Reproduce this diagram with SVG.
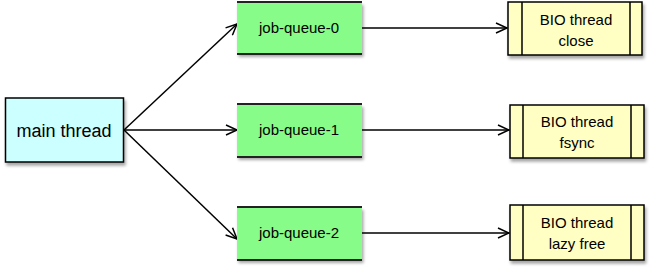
<svg xmlns="http://www.w3.org/2000/svg" width="650" height="268" viewBox="0 0 650 268">
<style>
text{font-family:"Liberation Sans",Arial,sans-serif;fill:#000;text-anchor:middle}
.main{fill:#ccffff;stroke:#000;stroke-width:1.5}
.q{fill:#88fc88;stroke:none}
.qb{stroke:#222;stroke-width:2.2}
.bio{fill:#ffffc4;stroke:#000;stroke-width:1.5}
.bl{stroke:#000;stroke-width:1.5}
.c{stroke:#000;stroke-width:1.5;fill:none;marker-end:url(#ah)}
.t15{font-size:15px}
</style>
<defs>
<filter id="sh" x="-10%" y="-10%" width="130%" height="140%">
<feDropShadow dx="1.5" dy="3" stdDeviation="1.5" flood-color="#000" flood-opacity="0.35"/>
</filter>
<marker id="ah" markerWidth="14" markerHeight="12" refX="12" refY="6" orient="auto" markerUnits="userSpaceOnUse">
<path d="M1,1 L12,6 L1,11" fill="none" stroke="#000" stroke-width="1.5"/>
</marker>
</defs>
<g id="connectors">
<line class="c" x1="124" y1="130" x2="237" y2="24"/>
<line class="c" x1="124" y1="130" x2="237" y2="130"/>
<line class="c" x1="124" y1="130" x2="237" y2="239"/>
<line class="c" x1="362" y1="28" x2="507" y2="28"/>
<line class="c" x1="362" y1="130" x2="509" y2="130"/>
<line class="c" x1="362" y1="233" x2="509" y2="233"/>
</g>
<g id="main-thread">
<rect class="main" x="5.5" y="98" width="118" height="64" filter="url(#sh)"/>
<text x="64" y="137" font-size="18">main thread</text>
</g>
<g id="job-queue-0">
<rect class="q" x="237" y="2" width="125" height="52" filter="url(#sh)"/>
<line class="qb" x1="237" y1="2" x2="362" y2="2"/>
<line class="qb" x1="237" y1="54" x2="362" y2="54"/>
<text class="t15" x="299" y="33">job-queue-0</text>
</g>
<g id="job-queue-1">
<rect class="q" x="237" y="104" width="125" height="53" filter="url(#sh)"/>
<line class="qb" x1="237" y1="104" x2="362" y2="104"/>
<line class="qb" x1="237" y1="157" x2="362" y2="157"/>
<text class="t15" x="299" y="135">job-queue-1</text>
</g>
<g id="job-queue-2">
<rect class="q" x="237" y="207" width="125" height="53" filter="url(#sh)"/>
<line class="qb" x1="237" y1="207" x2="362" y2="207"/>
<line class="qb" x1="237" y1="260" x2="362" y2="260"/>
<text class="t15" x="299" y="238">job-queue-2</text>
</g>
<g id="bio-close">
<rect class="bio" x="508" y="2" width="134" height="53" filter="url(#sh)"/>
<line class="bl" x1="522" y1="2" x2="522" y2="55"/>
<line class="bl" x1="630" y1="2" x2="630" y2="55"/>
<text class="t15" x="576" y="25">BIO thread</text>
<text class="t15" x="576" y="46">close</text>
</g>
<g id="bio-fsync">
<rect class="bio" x="510" y="105" width="134" height="53" filter="url(#sh)"/>
<line class="bl" x1="523" y1="105" x2="523" y2="158"/>
<line class="bl" x1="631" y1="105" x2="631" y2="158"/>
<text class="t15" x="577" y="127">BIO thread</text>
<text class="t15" x="577" y="148">fsync</text>
</g>
<g id="bio-lazy-free">
<rect class="bio" x="510" y="205" width="134" height="55" filter="url(#sh)"/>
<line class="bl" x1="523" y1="205" x2="523" y2="260"/>
<line class="bl" x1="631" y1="205" x2="631" y2="260"/>
<text class="t15" x="577" y="228">BIO thread</text>
<text class="t15" x="577" y="249">lazy free</text>
</g>
</svg>
